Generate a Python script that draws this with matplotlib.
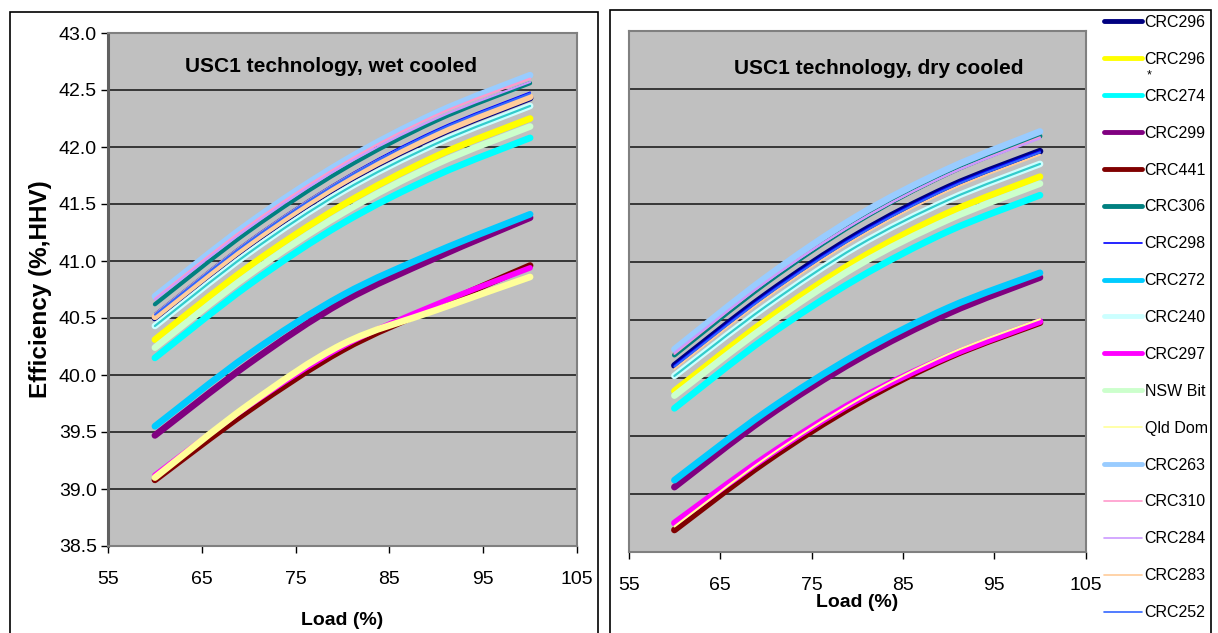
import matplotlib
matplotlib.use('Agg')
import matplotlib.pyplot as plt
from matplotlib.path import Path
from matplotlib.patches import PathPatch, Rectangle
from matplotlib.lines import Line2D
import numpy as np

plt.rcParams['font.family'] = ['Liberation Sans', 'DejaVu Sans']

# Load points (%)
LOAD = [60, 70, 80, 90, 100]

# Efficiency (%, HHV), wet cooled
WET_CRC296 = [40.50, 41.14, 41.68, 42.10, 42.43]
WET_CRC296S = [40.31, 40.95, 41.49, 41.92, 42.25]
WET_CRC274 = [40.15, 40.79, 41.33, 41.75, 42.08]
WET_CRC299 = [39.47, 40.10, 40.64, 41.03, 41.38]
WET_CRC441 = [39.08, 39.69, 40.22, 40.60, 40.96]
WET_CRC306 = [40.62, 41.26, 41.80, 42.23, 42.56]
WET_CRC298 = [40.54, 41.18, 41.72, 42.15, 42.48]
WET_CRC272 = [39.55, 40.18, 40.70, 41.08, 41.41]
WET_CRC240 = [40.43, 41.07, 41.61, 42.03, 42.36]
WET_CRC297 = [39.12, 39.73, 40.25, 40.62, 40.94]
WET_NSWBIT = [40.24, 40.88, 41.42, 41.85, 42.18]
WET_QLDDOM = [39.10, 39.74, 40.27, 40.57, 40.86]
WET_CRC263 = [40.69, 41.33, 41.87, 42.30, 42.63]
WET_CRC310 = [40.67, 41.31, 41.85, 42.28, 42.60]
WET_CRC284 = [40.66, 41.29, 41.83, 42.25, 42.57]
WET_CRC283 = [40.51, 41.15, 41.69, 42.11, 42.44]
WET_CRC252 = [40.53, 41.17, 41.71, 42.14, 42.47]

# Efficiency (%, HHV), dry cooled
DRY_CRC296 = [40.11, 40.72, 41.24, 41.65, 41.96]
DRY_CRC296S = [39.89, 40.50, 41.02, 41.43, 41.74]
DRY_CRC274 = [39.74, 40.35, 40.86, 41.27, 41.58]
DRY_CRC299 = [39.06, 39.66, 40.16, 40.56, 40.87]
DRY_CRC441 = [38.69, 39.28, 39.78, 40.18, 40.48]
DRY_CRC306 = [40.20, 40.82, 41.35, 41.77, 42.09]
DRY_CRC298 = [40.11, 40.72, 41.24, 41.65, 41.96]
DRY_CRC272 = [39.12, 39.71, 40.21, 40.61, 40.91]
DRY_CRC240 = [40.02, 40.62, 41.14, 41.54, 41.85]
DRY_CRC297 = [38.75, 39.32, 39.81, 40.19, 40.49]
DRY_NSWBIT = [39.85, 40.45, 40.97, 41.37, 41.68]
DRY_QLDDOM = [38.72, 39.31, 39.81, 40.21, 40.51]
DRY_CRC263 = [40.25, 40.87, 41.40, 41.81, 42.13]
DRY_CRC310 = [40.21, 40.83, 41.35, 41.76, 42.08]
DRY_CRC284 = [40.22, 40.83, 41.35, 41.76, 42.07]
DRY_CRC283 = [40.08, 40.69, 41.21, 41.62, 41.93]
DRY_CRC252 = [40.10, 40.71, 41.23, 41.64, 41.95]

LABELS = ['CRC296', 'CRC296', 'CRC274', 'CRC299', 'CRC441', 'CRC306', 'CRC298',
          'CRC272', 'CRC240', 'CRC297', 'NSW Bit', 'Qld Dom', 'CRC263', 'CRC310',
          'CRC284', 'CRC283', 'CRC252']
WET = [WET_CRC296, WET_CRC296S, WET_CRC274, WET_CRC299, WET_CRC441, WET_CRC306,
       WET_CRC298, WET_CRC272, WET_CRC240, WET_CRC297, WET_NSWBIT, WET_QLDDOM,
       WET_CRC263, WET_CRC310, WET_CRC284, WET_CRC283, WET_CRC252]
DRY = [DRY_CRC296, DRY_CRC296S, DRY_CRC274, DRY_CRC299, DRY_CRC441, DRY_CRC306,
       DRY_CRC298, DRY_CRC272, DRY_CRC240, DRY_CRC297, DRY_NSWBIT, DRY_QLDDOM,
       DRY_CRC263, DRY_CRC310, DRY_CRC284, DRY_CRC283, DRY_CRC252]

COLORS = ['#000080', '#FFFF00', '#00FFFF', '#800080', '#800000', '#008080', '#0000FF',
          '#00CCFF', '#CCFFFF', '#FF00FF', '#CCFFCC', '#FFFF99', '#99CCFF', '#FF99CC',
          '#CC99FF', '#FFCC99', '#3366FF']
# line widths in the two charts and in the legend
LW_WET = [4.8, 4.8, 4.8, 4.8, 4.8, 3.0, 1.2, 4.8, 4.8, 4.0, 4.8, 4.8, 4.8, 1.5, 1.5, 4.8, 1.5]
LW_DRY = [4.8, 4.8, 4.8, 4.8, 4.8, 3.5, 1.5, 4.8, 4.8, 4.8, 4.8, 1.5, 4.8, 1.5, 1.5, 1.5, 1.5]
LW_LEG = [3.5, 3.5, 3.5, 3.5, 3.5, 3.5, 1.2, 3.5, 3.5, 3.5, 3.5, 1.2, 3.5, 1.2, 1.2, 1.2, 1.2]


def smooth_path(x, y):
    # Catmull-Rom style cubic Bezier through the points (like a smoothed line)
    x = np.asarray(x, float)
    y = np.asarray(y, float)
    n = len(x)
    verts = [(x[0], y[0])]
    codes = [Path.MOVETO]
    for i in range(n - 1):
        i0 = max(i - 1, 0)
        i3 = min(i + 2, n - 1)
        c1 = (x[i] + (x[i + 1] - x[i0]) / 6, y[i] + (y[i + 1] - y[i0]) / 6)
        c2 = (x[i + 1] - (x[i3] - x[i]) / 6, y[i + 1] - (y[i3] - y[i]) / 6)
        verts += [c1, c2, (x[i + 1], y[i + 1])]
        codes += [Path.CURVE4] * 3
    return Path(verts, codes)


def draw_curve(ax, y, color, lw, z):
    p = PathPatch(smooth_path(LOAD, y), fill=False, edgecolor=color, lw=lw,
                  capstyle='round', joinstyle='round', zorder=z)
    ax.add_patch(p)


def setup_axes(ax, show_y):
    ax.set_facecolor('#C0C0C0')
    ax.set_xlim(55, 105)
    ax.set_ylim(38.5, 43.0)
    ax.set_xticks(np.arange(55, 106, 10))
    ax.set_yticks(np.arange(38.5, 43.01, 0.5))
    ax.yaxis.grid(True, color='#202020', lw=1.2)
    ax.set_axisbelow(True)
    for s in ax.spines.values():
        s.set_color('#808080')
        s.set_linewidth(1.5)
    ax.tick_params(axis='x', direction='out', length=5, width=1, color='black',
                   labelsize=14, pad=13)
    if show_y:
        ax.yaxis.set_major_formatter(matplotlib.ticker.FormatStrFormatter('%.1f'))
        ax.tick_params(axis='y', direction='out', length=5, width=1, color='black',
                       labelsize=14, pad=3)
        ax.spines['left'].set_color('#606060')
        ax.spines['left'].set_linewidth(2.2)
    else:
        ax.tick_params(axis='y', length=0, labelleft=False)


fig = plt.figure(figsize=(12.18, 6.33), dpi=100)
fig.patch.set_facecolor('white')

# outer chart frames
fig.add_artist(Rectangle((10 / 1218, -0.05), 588 / 1218, 1.05 - 12 / 633, fill=False,
                         edgecolor='black', lw=1.2, transform=fig.transFigure))
fig.add_artist(Rectangle((610 / 1218, -0.05), 601 / 1218, 1.05 - 10 / 633, fill=False,
                         edgecolor='black', lw=1.2, transform=fig.transFigure))

ax1 = fig.add_axes([108 / 1218, 1 - 546 / 633, 469 / 1218, 513 / 633])
ax2 = fig.add_axes([628.7 / 1218, 1 - 552 / 633, 457 / 1218, 521.3 / 633])
setup_axes(ax1, True)
setup_axes(ax2, False)

for i, (ys, c, lw) in enumerate(zip(WET, COLORS, LW_WET)):
    draw_curve(ax1, ys, c, lw, 3 + i * 0.01)
for i, (ys, c, lw) in enumerate(zip(DRY, COLORS, LW_DRY)):
    draw_curve(ax2, ys, c, lw, 3 + i * 0.01)
# darker centre stripe on the CRC240 curves
draw_curve(ax1, WET_CRC240, '#33CCCC', 1.6, 3.085)
draw_curve(ax2, DRY_CRC240, '#33CCCC', 1.6, 3.085)

ax1.text(0.476, 0.935, 'USC1 technology, wet cooled', transform=ax1.transAxes,
         ha='center', va='center', fontsize=15, fontweight='bold')
ax2.text(0.547, 0.928, 'USC1 technology, dry cooled', transform=ax2.transAxes,
         ha='center', va='center', fontsize=15, fontweight='bold')

ax1.set_ylabel('Efficiency (%,HHV)', fontsize=17.5, fontweight='bold', labelpad=5)
ax1.set_xlabel('Load (%)', fontsize=14, fontweight='bold', labelpad=17)
ax2.set_xlabel('Load (%)', fontsize=14, fontweight='bold', labelpad=0)

handles = [Line2D([], [], color=c, lw=lw, solid_capstyle='round')
           for c, lw in zip(COLORS, LW_LEG)]
leg = fig.legend(handles, LABELS, loc='upper left',
                 bbox_to_anchor=(1104 / 1218, 1 - 15 / 633),
                 frameon=False, fontsize=11.5, handlelength=2.4, handletextpad=0.15,
                 labelspacing=1.37, borderpad=0, borderaxespad=0)
# asterisk under the second CRC296 entry
fig.canvas.draw()
bb = leg.get_texts()[1].get_window_extent()
fig.text((bb.x0 + 2) / fig.bbox.width, (bb.y0 - 3) / fig.bbox.height, '*',
         fontsize=9, ha='left', va='top')

fig.savefig('out.png', dpi=100, facecolor='white')
